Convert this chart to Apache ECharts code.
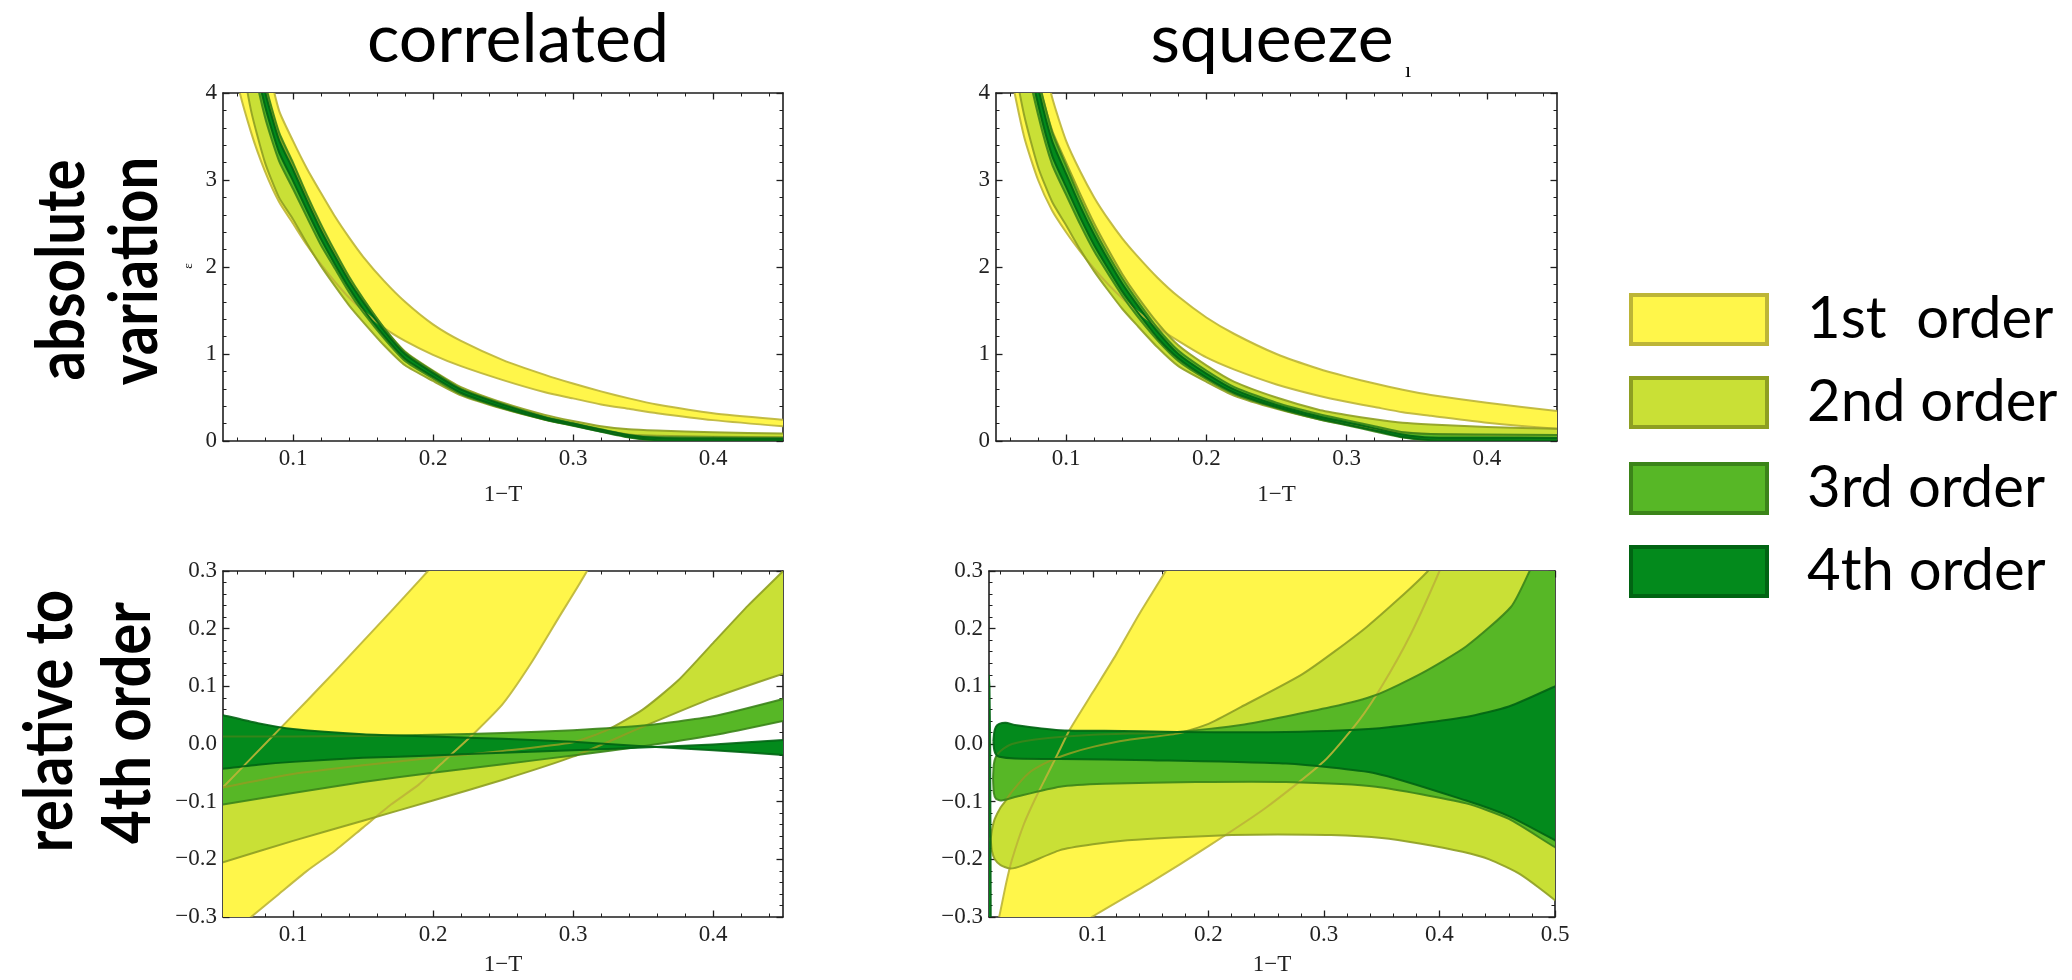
<!DOCTYPE html>
<html><head><meta charset="utf-8">
<script src="https://cdn.jsdelivr.net/npm/echarts@6.0.0/dist/echarts.min.js"></script>
<style>html,body{margin:0;padding:0;background:#fff}#c{width:2072px;height:980px}</style>
</head><body><div id="c"></div>
<script>
// ---------- labels / ticks ----------
const orderNames = ['1st  order', '2nd order', '3rd order', '4th order'];
const panelTitles = ['correlated', 'squeeze'];
const rowTitles = [['absolute', 'variation'], ['relative to', '4th order']];
const xAxisName = '1\u2212T';
const xTicksA = [0.1, 0.2, 0.3, 0.4];
const xMinorA = [0.06, 0.08, 0.12, 0.14, 0.16, 0.18, 0.22, 0.24, 0.26, 0.28, 0.32, 0.34, 0.36, 0.38, 0.42, 0.44];
const xTicksB = [0.1, 0.2, 0.3, 0.4, 0.5];
const xMinorB = [0.02, 0.04, 0.06, 0.08, 0.12, 0.14, 0.16, 0.18, 0.22, 0.24, 0.26, 0.28, 0.32, 0.34, 0.36, 0.38, 0.42, 0.44, 0.46, 0.48];

// ---------- top-left: correlated, absolute ----------
const absX = [0.055, 0.06, 0.07, 0.08, 0.09, 0.1, 0.11, 0.12, 0.13, 0.14, 0.15, 0.165, 0.18, 0.2, 0.22, 0.25, 0.28, 0.3, 0.32, 0.34, 0.36, 0.4, 0.45, 0.47];
const corrAbs1Lo = [5.0, 4.15, 3.55, 3.1, 2.75, 2.5, 2.25, 2.03, 1.83, 1.65, 1.5, 1.3, 1.15, 0.99, 0.86, 0.7, 0.56, 0.49, 0.42, 0.37, 0.32, 0.24, 0.17, 0.15];
const corrAbs1Hi = [9.0, 7.9, 5.9, 4.5, 3.8, 3.45, 3.13, 2.85, 2.58, 2.34, 2.12, 1.84, 1.6, 1.34, 1.15, 0.93, 0.76, 0.66, 0.57, 0.49, 0.42, 0.32, 0.245, 0.22];
const corrAbs2Lo = [5.2, 4.7, 3.8, 3.2, 2.8, 2.55, 2.27, 2.01, 1.78, 1.56, 1.37, 1.1, 0.87, 0.69, 0.525, 0.37, 0.245, 0.18, 0.12, 0.075, 0.06, 0.05, 0.045, 0.043];
const corrAbs2Hi = [6.9, 6.1, 4.95, 4.1, 3.52, 3.17, 2.8, 2.46, 2.16, 1.87, 1.63, 1.3, 1.03, 0.81, 0.62, 0.44, 0.3, 0.23, 0.17, 0.135, 0.12, 0.1, 0.085, 0.08];
const corrAbs3Lo = [6.15, 5.5, 4.47, 3.72, 3.22, 2.9, 2.57, 2.25, 1.98, 1.71, 1.48, 1.18, 0.92, 0.72, 0.54, 0.375, 0.245, 0.175, 0.105, 0.04, 0.005, 0.003, 0.003, 0.003];
const corrAbs3Hi = [6.85, 6.1, 4.95, 4.12, 3.55, 3.2, 2.83, 2.49, 2.18, 1.89, 1.64, 1.3, 1.02, 0.8, 0.6, 0.425, 0.275, 0.205, 0.135, 0.07, 0.045, 0.04, 0.035, 0.034];
const corrAbs4Lo = [6.3, 5.65, 4.6, 3.85, 3.32, 2.99, 2.65, 2.32, 2.03, 1.76, 1.52, 1.21, 0.945, 0.74, 0.555, 0.385, 0.25, 0.18, 0.11, 0.045, 0.01, 0.005, 0.004, 0.004];
const corrAbs4Hi = [6.7, 5.95, 4.85, 4.02, 3.46, 3.12, 2.76, 2.42, 2.12, 1.84, 1.6, 1.27, 1.0, 0.78, 0.59, 0.415, 0.27, 0.2, 0.13, 0.065, 0.035, 0.028, 0.025, 0.024];

// ---------- top-right: squeeze, absolute ----------
const sqAbs1Lo = [5.5, 4.3, 3.5, 3.0, 2.65, 2.4, 2.18, 1.98, 1.8, 1.64, 1.5, 1.31, 1.15, 0.96, 0.82, 0.65, 0.52, 0.45, 0.39, 0.33, 0.29, 0.21, 0.14, 0.125];
const sqAbs1Hi = [9.5, 8.0, 6.0, 4.7, 3.95, 3.45, 3.1, 2.8, 2.55, 2.33, 2.14, 1.88, 1.66, 1.42, 1.23, 1.0, 0.83, 0.74, 0.66, 0.59, 0.53, 0.44, 0.345, 0.32];
const sqAbs2Lo = [5.1, 4.6, 3.75, 3.15, 2.75, 2.48, 2.2, 1.95, 1.73, 1.52, 1.34, 1.08, 0.86, 0.68, 0.52, 0.37, 0.25, 0.19, 0.14, 0.1, 0.08, 0.07, 0.065, 0.063];
const sqAbs2Hi = [7.0, 6.2, 5.0, 4.15, 3.57, 3.2, 2.84, 2.5, 2.2, 1.92, 1.68, 1.36, 1.1, 0.87, 0.68, 0.5, 0.36, 0.3, 0.25, 0.21, 0.19, 0.16, 0.14, 0.135];
const sqAbs3Lo = [6.27, 5.6, 4.5, 3.75, 3.18, 2.83, 2.49, 2.18, 1.92, 1.67, 1.45, 1.16, 0.92, 0.71, 0.54, 0.38, 0.25, 0.18, 0.11, 0.04, 0.008, 0.004, 0.003, 0.003];
const sqAbs3Hi = [7.0, 6.25, 5.03, 4.18, 3.55, 3.16, 2.78, 2.44, 2.14, 1.87, 1.63, 1.3, 1.04, 0.81, 0.62, 0.44, 0.31, 0.24, 0.17, 0.1, 0.08, 0.075, 0.07, 0.069];
const sqAbs4Lo = [6.45, 5.78, 4.65, 3.87, 3.28, 2.92, 2.57, 2.25, 1.98, 1.72, 1.5, 1.19, 0.95, 0.73, 0.555, 0.39, 0.26, 0.19, 0.12, 0.045, 0.01, 0.005, 0.004, 0.004];
const sqAbs4Hi = [6.8, 6.08, 4.9, 4.07, 3.45, 3.07, 2.7, 2.37, 2.08, 1.81, 1.58, 1.26, 1.0, 0.775, 0.59, 0.415, 0.285, 0.215, 0.145, 0.075, 0.04, 0.037, 0.035, 0.034];

// ---------- bottom-left: correlated, relative to 4th order ----------
const corrRel1HiX = [0.04, 0.05, 0.07, 0.09, 0.11, 0.13, 0.15, 0.17, 0.19, 0.21, 0.23];
const corrRel1Hi = [-0.1, -0.075, -0.025, 0.025, 0.075, 0.126, 0.178, 0.23, 0.283, 0.336, 0.39];
const corrRel1LoX = [0.04, 0.06, 0.07, 0.09, 0.11, 0.13, 0.15, 0.17, 0.19, 0.21, 0.23, 0.25, 0.27, 0.29, 0.31, 0.33];
const corrRel1Lo = [-0.34, -0.32, -0.3, -0.26, -0.22, -0.185, -0.145, -0.105, -0.07, -0.025, 0.02, 0.07, 0.14, 0.22, 0.3, 0.4];
const corrRel2LoX = [0.04, 0.05, 0.1, 0.15, 0.2, 0.25, 0.3, 0.35, 0.4, 0.45, 0.46];
const corrRel2Lo = [-0.213, -0.205, -0.168, -0.133, -0.098, -0.062, -0.022, 0.03, 0.08, 0.122, 0.13];
const corrRel2HiX = [0.04, 0.05, 0.1, 0.15, 0.2, 0.25, 0.3, 0.325, 0.35, 0.375, 0.4, 0.425, 0.45, 0.46];
const corrRel2Hi = [-0.08, -0.075, -0.052, -0.037, -0.024, -0.012, 0.003, 0.025, 0.06, 0.11, 0.175, 0.24, 0.3, 0.33];
const corrRel3X = [0.04, 0.05, 0.1, 0.15, 0.2, 0.25, 0.3, 0.35, 0.4, 0.45, 0.46];
const corrRel3Lo = [-0.11, -0.105, -0.085, -0.066, -0.05, -0.035, -0.02, -0.004, 0.015, 0.04, 0.046];
const corrRel3Hi = [0.013, 0.013, 0.013, 0.014, 0.016, 0.019, 0.024, 0.032, 0.048, 0.078, 0.086];
const corrRel4X = [0.04, 0.05, 0.075, 0.1, 0.15, 0.2, 0.25, 0.3, 0.35, 0.4, 0.45, 0.46];
const corrRel4Lo = [-0.046, -0.043, -0.036, -0.031, -0.024, -0.02, -0.015, -0.011, -0.006, -0.001, 0.007, 0.009];
const corrRel4Hi = [0.056, 0.05, 0.036, 0.026, 0.017, 0.013, 0.009, 0.004, -0.004, -0.011, -0.019, -0.021];

// ---------- bottom-right: squeeze, relative to 4th order ----------
const sqRel1HiX = [0.015, 0.0188, 0.025, 0.03, 0.04, 0.05, 0.06, 0.07, 0.08, 0.1, 0.12, 0.14, 0.163, 0.18];
const sqRel1Hi = [-0.33, -0.3, -0.24, -0.2, -0.14, -0.095, -0.055, -0.015, 0.025, 0.09, 0.155, 0.225, 0.3, 0.36];
const sqRel1LoX = [0.085, 0.1, 0.15, 0.2, 0.25, 0.3, 0.33, 0.35, 0.375, 0.4, 0.42];
const sqRel1Lo = [-0.32, -0.299, -0.24, -0.177, -0.11, -0.03, 0.04, 0.1, 0.19, 0.3, 0.4];
const sqRel2HiX = [0.0115, 0.0125, 0.015, 0.02, 0.0246, 0.03, 0.044, 0.06, 0.079, 0.1, 0.13, 0.173, 0.2, 0.228, 0.282, 0.337, 0.39, 0.45, 0.52];
const sqRel2Hi = [-0.165, -0.15, -0.13, -0.11, -0.098, -0.082, -0.051, -0.032, -0.017, -0.005, 0.007, 0.018, 0.035, 0.064, 0.122, 0.203, 0.3, 0.45, 0.7];
const sqRel2LoX = [0.0115, 0.0125, 0.015, 0.02, 0.0285, 0.04, 0.0715, 0.1, 0.13, 0.17, 0.22, 0.26, 0.306, 0.35, 0.384, 0.42, 0.443, 0.47, 0.5, 0.52];
const sqRel2Lo = [-0.165, -0.185, -0.2, -0.21, -0.216, -0.21, -0.184, -0.174, -0.167, -0.162, -0.158, -0.157, -0.158, -0.163, -0.173, -0.187, -0.2, -0.226, -0.271, -0.31];
const sqRel3HiX = [0.0135, 0.0142, 0.016, 0.02, 0.03, 0.05, 0.1, 0.173, 0.228, 0.306, 0.345, 0.384, 0.423, 0.462, 0.478, 0.5, 0.52];
const sqRel3Hi = [-0.06, -0.035, -0.022, -0.012, 0.0, 0.008, 0.016, 0.021, 0.033, 0.064, 0.085, 0.122, 0.169, 0.238, 0.3, 0.4, 0.45];
const sqRel3LoX = [0.0135, 0.0142, 0.016, 0.021, 0.0324, 0.0715, 0.11, 0.189, 0.267, 0.345, 0.423, 0.46, 0.5, 0.52];
const sqRel3Lo = [-0.06, -0.085, -0.095, -0.098, -0.092, -0.074, -0.069, -0.066, -0.066, -0.074, -0.103, -0.13, -0.179, -0.2];
const sqRel4HiX = [0.0138, 0.0145, 0.016, 0.0188, 0.0246, 0.0324, 0.0715, 0.11, 0.173, 0.267, 0.345, 0.423, 0.46, 0.5, 0.52];
const sqRel4Hi = [0.005, 0.02, 0.03, 0.035, 0.037, 0.033, 0.024, 0.023, 0.021, 0.021, 0.027, 0.047, 0.065, 0.1, 0.12];
const sqRel4LoX = [0.0138, 0.0145, 0.016, 0.0188, 0.0324, 0.0715, 0.15, 0.267, 0.345, 0.423, 0.46, 0.5, 0.52];
const sqRel4Lo = [0.005, -0.01, -0.018, -0.022, -0.025, -0.026, -0.028, -0.034, -0.051, -0.098, -0.125, -0.167, -0.19];
// thin 4th-order sliver hugging the left frame of the squeeze panel
const sqRel4SliverHiX = [0.0098, 0.0104, 0.0110, 0.0116];
const sqRel4SliverHi = [0.12, 0.1, 0.0, -0.35];
const sqRel4SliverLoX = [0.0098, 0.0116];
const sqRel4SliverLo = [-0.35, -0.35];

// ---------- styling ----------
const fillColors = ['#FFF64A', '#C9E036', '#57B726', '#038A1C'];
const edgeColors = ['#BDB537', '#8E9F22', '#3B8419', '#016413'];
const LABEL_FONT = 'Liberation Serif';
const TEXT_FONT = 'Lato';

function band(loX, lo, hiX, hi, k) { return { loX: loX, lo: lo, hiX: hiX, hi: hi, k: k }; }

const panels = [
  { grid: { left: 223, top: 93, width: 560, height: 348 }, xMin: 0.05, xMax: 0.45, xT: xTicksA, xM: xMinorA,
    yMin: 0, yMax: 4, yInt: 1, rel: false, nameGap: 42,
    bands: [band(absX, corrAbs1Lo, absX, corrAbs1Hi, 0), band(absX, corrAbs2Lo, absX, corrAbs2Hi, 1),
            band(absX, corrAbs3Lo, absX, corrAbs3Hi, 2), band(absX, corrAbs4Lo, absX, corrAbs4Hi, 3)] },
  { grid: { left: 996, top: 93, width: 561, height: 348 }, xMin: 0.05, xMax: 0.45, xT: xTicksA, xM: xMinorA,
    yMin: 0, yMax: 4, yInt: 1, rel: false, nameGap: 42,
    bands: [band(absX, sqAbs1Lo, absX, sqAbs1Hi, 0), band(absX, sqAbs2Lo, absX, sqAbs2Hi, 1),
            band(absX, sqAbs3Lo, absX, sqAbs3Hi, 2), band(absX, sqAbs4Lo, absX, sqAbs4Hi, 3)] },
  { grid: { left: 223, top: 571, width: 560, height: 346 }, xMin: 0.05, xMax: 0.45, xT: xTicksA, xM: xMinorA,
    yMin: -0.3, yMax: 0.3, yInt: 0.1, rel: true, nameGap: 36,
    bands: [band(corrRel1LoX, corrRel1Lo, corrRel1HiX, corrRel1Hi, 0), band(corrRel2LoX, corrRel2Lo, corrRel2HiX, corrRel2Hi, 1),
            band(corrRel3X, corrRel3Lo, corrRel3X, corrRel3Hi, 2), band(corrRel4X, corrRel4Lo, corrRel4X, corrRel4Hi, 3)] },
  { grid: { left: 989, top: 571, width: 566, height: 346 }, xMin: 0.01, xMax: 0.5, xT: xTicksB, xM: xMinorB,
    yMin: -0.3, yMax: 0.3, yInt: 0.1, rel: true, nameGap: 36,
    bands: [band(sqRel1LoX, sqRel1Lo, sqRel1HiX, sqRel1Hi, 0), band(sqRel2LoX, sqRel2Lo, sqRel2HiX, sqRel2Hi, 1),
            band(sqRel3LoX, sqRel3Lo, sqRel3HiX, sqRel3Hi, 2), band(sqRel4LoX, sqRel4Lo, sqRel4HiX, sqRel4Hi, 3),
            band(sqRel4SliverLoX, sqRel4SliverLo, sqRel4SliverHiX, sqRel4SliverHi, 3)] }
];

const AX = '#1e1e1e';
function relFmt(v) { const r = Math.round(v * 10) / 10; return (r < 0 ? '\u2212' : '') + Math.abs(r).toFixed(1); }

const grids = [], xAxes = [], yAxes = [], series = [];
panels.forEach(function (p, i) {
  grids.push(Object.assign({ containLabel: false }, p.grid));
  const lineOn = { show: true, onZero: false, lineStyle: { color: AX, width: 1.6 } };
  const lineOff = { show: false, onZero: false };
  const base = { type: 'value', gridIndex: i, min: p.xMin, max: p.xMax, splitLine: { show: false } };
  xAxes.push(Object.assign({}, base, {
    position: 'bottom', axisLine: lineOn,
    axisTick: { show: true, inside: true, length: 6.5, customValues: p.xT, lineStyle: { color: AX, width: 1.3 } },
    axisLabel: { show: true, customValues: p.xT, margin: 6, fontFamily: LABEL_FONT, fontSize: 23, color: '#222',
                 formatter: function (v) { return (Math.round(v * 10) / 10).toFixed(1); } },
    name: xAxisName, nameLocation: 'middle', nameGap: p.nameGap,
    nameTextStyle: { fontFamily: LABEL_FONT, fontSize: 23, color: '#222' }
  }));
  xAxes.push(Object.assign({}, base, {
    position: 'bottom', axisLine: lineOff,
    axisTick: { show: true, inside: true, length: 3.5, customValues: p.xM, lineStyle: { color: AX, width: 1 } },
    axisLabel: { show: false }
  }));
  xAxes.push(Object.assign({}, base, {
    position: 'top', axisLine: lineOn,
    axisTick: { show: true, inside: true, length: 6.5, customValues: p.xT, lineStyle: { color: AX, width: 1.3 } },
    axisLabel: { show: false }
  }));
  xAxes.push(Object.assign({}, base, {
    position: 'top', axisLine: lineOff,
    axisTick: { show: true, inside: true, length: 3.5, customValues: p.xM, lineStyle: { color: AX, width: 1 } },
    axisLabel: { show: false }
  }));
  const ybase = { type: 'value', gridIndex: i, min: p.yMin, max: p.yMax, interval: p.yInt, splitLine: { show: false },
    axisLine: lineOn,
    axisTick: { show: true, inside: true, length: 6.5, lineStyle: { color: AX, width: 1.3 } },
    minorTick: { show: true, splitNumber: 5, length: 3.5, lineStyle: { color: AX, width: 1 } } };
  yAxes.push(Object.assign({}, ybase, {
    position: 'left',
    axisLabel: { show: true, margin: 6, fontFamily: LABEL_FONT, fontSize: 23, color: '#222',
                 formatter: p.rel ? relFmt : function (v) { return String(Math.round(v)); } }
  }));
  yAxes.push(Object.assign({}, ybase, { position: 'right', axisLabel: { show: false } }));

  const mid = [[(p.xMin + p.xMax) / 2, (p.yMin + p.yMax) / 2]];
  p.bands.forEach(function (b) {
    const k = b.k;
    series.push({
      type: 'custom', name: orderNames[k], xAxisIndex: 4 * i, yAxisIndex: 2 * i, clip: true, silent: true,
      z: 2 + k * 0.01, data: mid,
      renderItem: function (params, api) {
        const pts = [];
        for (let j = 0; j < b.hiX.length; j++) pts.push(api.coord([b.hiX[j], b.hi[j]]));
        for (let j = b.loX.length - 1; j >= 0; j--) pts.push(api.coord([b.loX[j], b.lo[j]]));
        const clean = pts.filter(function (q, j) { const n = pts[(j + 1) % pts.length]; return !(n[0] === q[0] && n[1] === q[1]); });
        return { type: 'polygon', shape: { points: clean, smooth: 0.2 }, style: { fill: fillColors[k], stroke: 'none' } };
      }
    });
  });
  p.bands.forEach(function (b) {
    const k = b.k;
    series.push({
      type: 'custom', name: orderNames[k] + ' edge', xAxisIndex: 4 * i, yAxisIndex: 2 * i, clip: true, silent: true,
      z: 3, data: mid,
      renderItem: function (params, api) {
        const a = b.hiX.map(function (x, j) { return api.coord([x, b.hi[j]]); });
        const c = b.loX.map(function (x, j) { return api.coord([x, b.lo[j]]); });
        const st = { stroke: edgeColors[k], lineWidth: 2, fill: 'none', opacity: 0.9 };
        return { type: 'group', children: [
          { type: 'polyline', shape: { points: a, smooth: 0.2 }, style: st },
          { type: 'polyline', shape: { points: c, smooth: 0.2 }, style: st }
        ] };
      }
    });
  });
});

// ---------- texts and legend ----------
const graphics = [];
function txt(x, y, s, size, family, rot, weight, sx) {
  graphics.push({ type: 'text', x: x, y: y, rotation: rot || 0, scaleX: sx || 1, scaleY: 1, silent: true,
    style: { text: s, fontSize: size, fontFamily: family, fontWeight: weight || 'normal', fill: '#000',
             align: 'center', verticalAlign: 'middle', textAlign: 'center', textVerticalAlign: 'middle' } });
}
txt(518, 40, panelTitles[0], 68, TEXT_FONT);
txt(1272, 40, panelTitles[1], 68, TEXT_FONT);
txt(1408, 71, '\u0131', 22, LABEL_FONT);
txt(189, 266, '\u025B', 13, LABEL_FONT, Math.PI / 2);
txt(63, 270, rowTitles[0][0], 66, TEXT_FONT, Math.PI / 2, 'bold', 0.88);
txt(136, 271, rowTitles[0][1], 66, TEXT_FONT, Math.PI / 2, 'bold', 0.88);
txt(51, 721, rowTitles[1][0], 66, TEXT_FONT, Math.PI / 2, 'bold', 0.88);
txt(129, 723, rowTitles[1][1], 66, TEXT_FONT, Math.PI / 2, 'bold', 0.88);
const legendTops = [293, 376, 462, 545];
orderNames.forEach(function (n, k) {
  graphics.push({ type: 'rect', silent: true, shape: { x: 1631, y: legendTops[k] + 2, width: 136, height: 49 },
    style: { fill: fillColors[k], stroke: edgeColors[k], lineWidth: 4 } });
  graphics.push({ type: 'text', silent: true, x: 1807, y: legendTops[k] + 26.5,
    style: { text: n, fontSize: 58, fontFamily: TEXT_FONT, fill: '#000', align: 'left', verticalAlign: 'middle',
             textAlign: 'left', textVerticalAlign: 'middle' } });
});

const chart = echarts.init(document.getElementById('c'), null, { renderer: 'canvas' });
chart.setOption({
  animation: false,
  backgroundColor: '#ffffff',
  grid: grids, xAxis: xAxes, yAxis: yAxes, series: series, graphic: graphics
});
</script></body></html>
